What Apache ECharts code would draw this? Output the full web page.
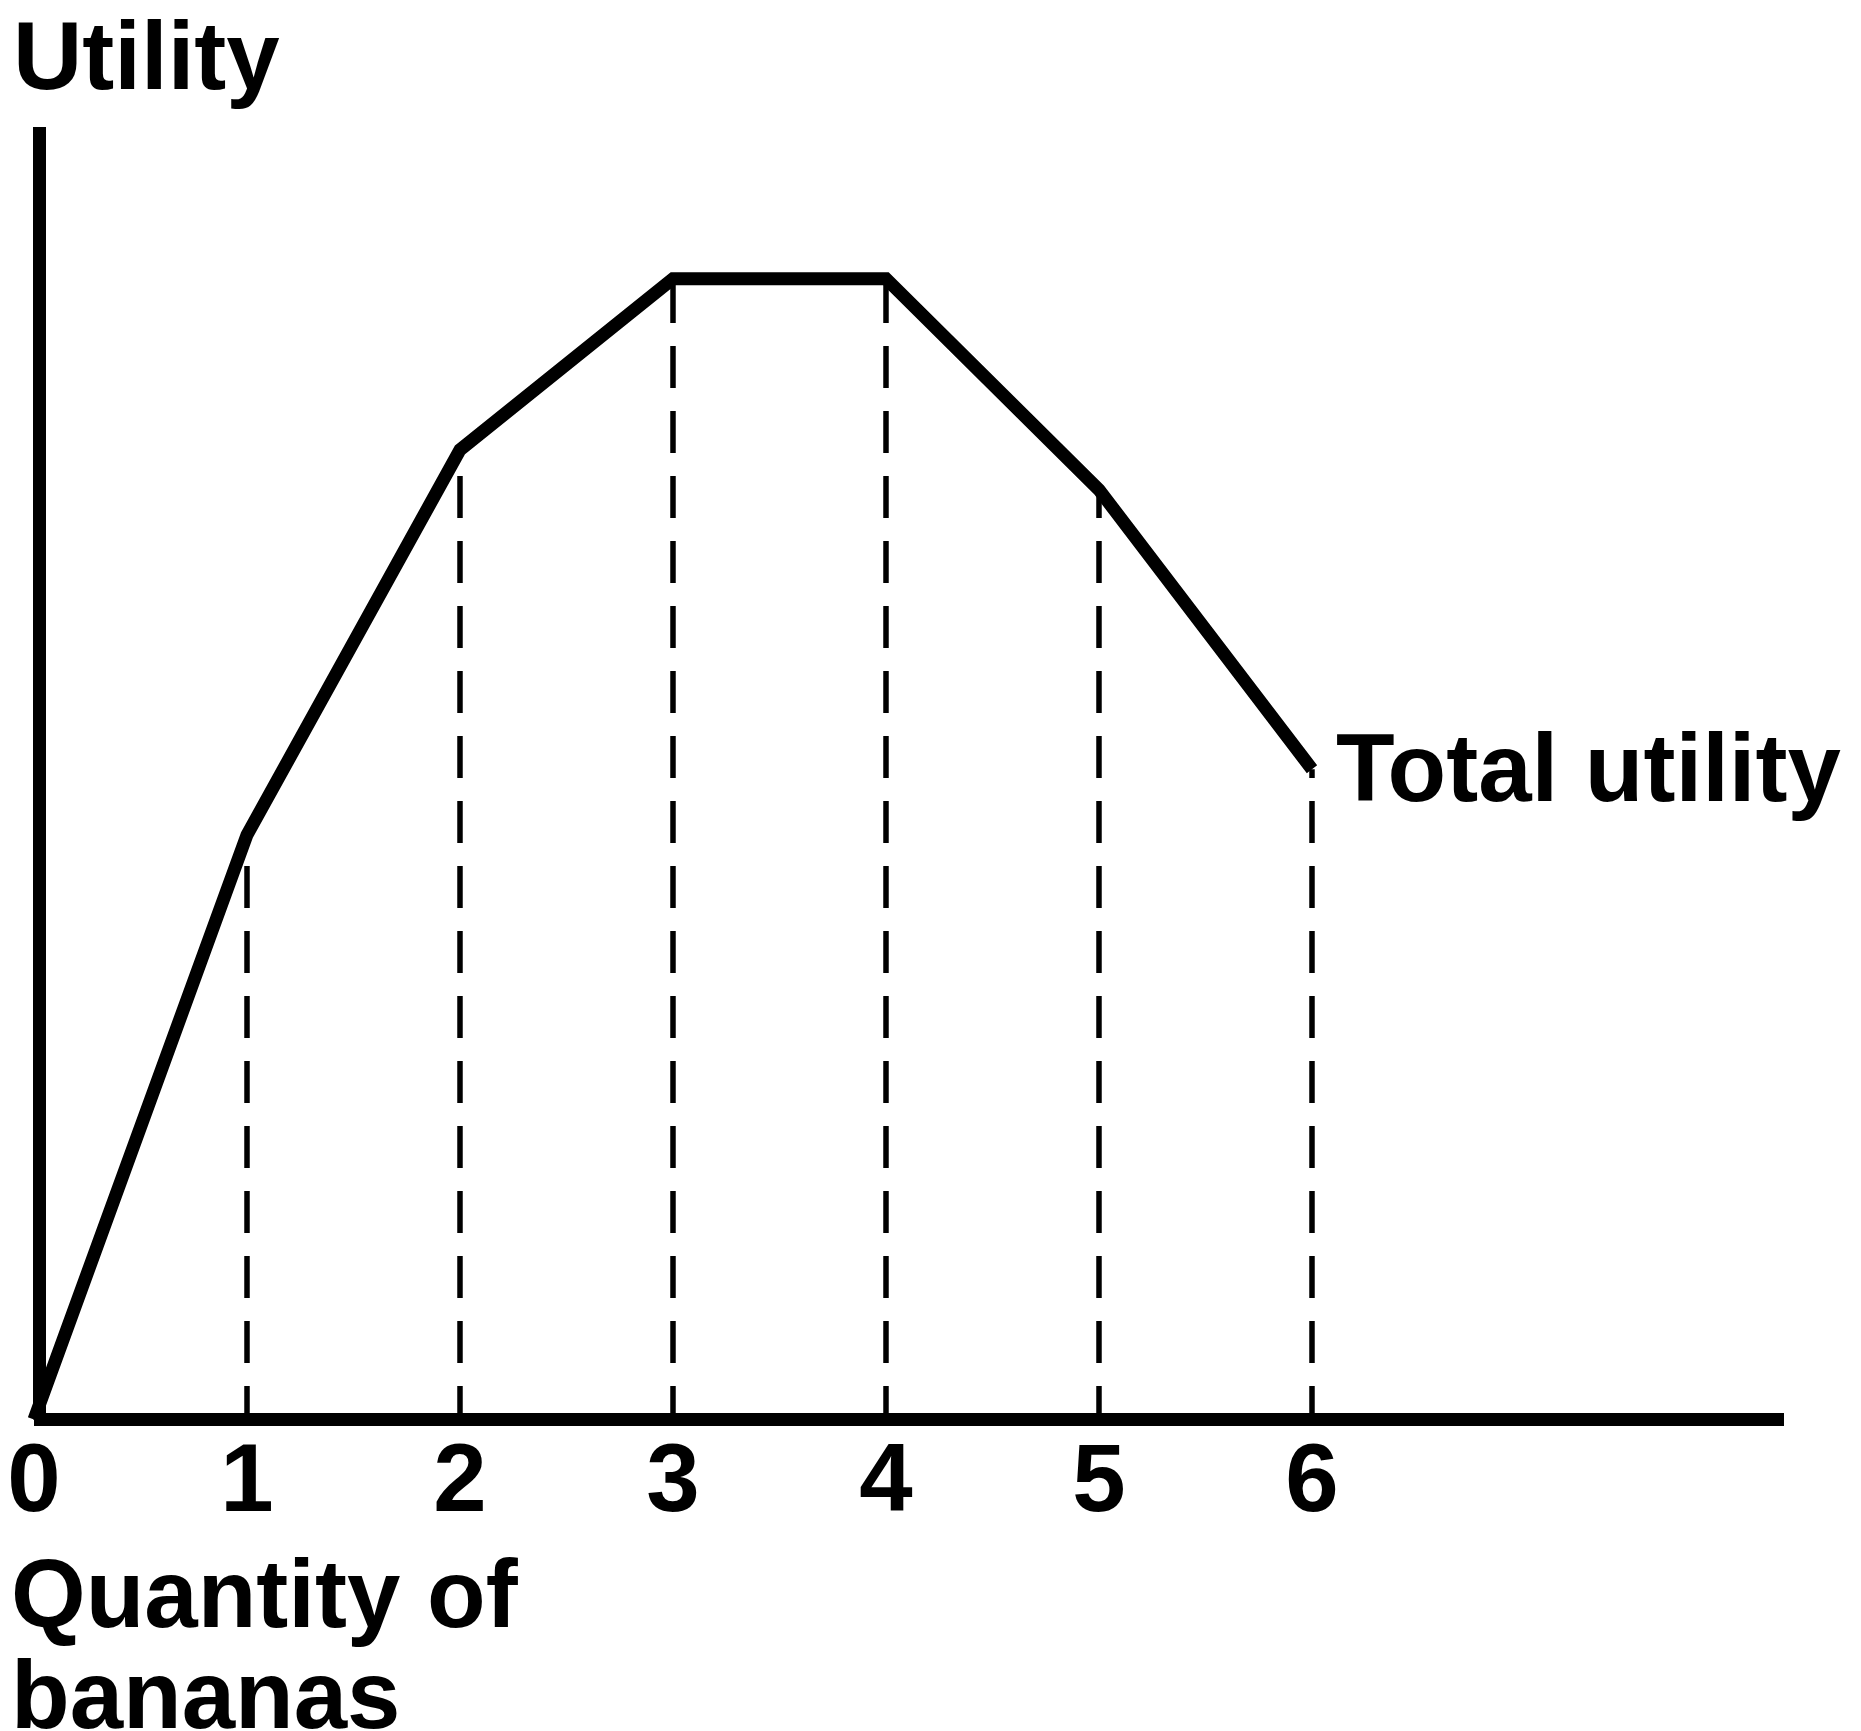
<!DOCTYPE html>
<html>
<head>
<meta charset="utf-8">
<script src="https://cdn.jsdelivr.net/npm/echarts@6/dist/echarts.min.js"></script>
<style>
html,body{margin:0;padding:0;background:#fff;}
#c{width:1861px;height:1731px;}
</style>
</head>
<body>
<div id="c"></div>
<script>
// Data
const quantities = [0, 1, 2, 3, 4, 5, 6];
const totalUtility = [0, 10.25, 17, 20, 20, 16.3, 11.4];
const xTickLabels = ['0', '1', '2', '3', '4', '5', '6'];
const yAxisTitle = 'Utility';
const xAxisTitle = 'Quantity of\nbananas';
const curveLabel = 'Total utility';

const FONT = '"Liberation Sans", Arial, Helvetica, sans-serif';
const chart = echarts.init(document.getElementById('c'), null, {renderer: 'canvas'});

const curveData = quantities.map((q, i) => [q, totalUtility[i]]);
const dashSeries = quantities.slice(1).map((q, i) => ({
  type: 'line',
  data: [[q, -0.15], [q, totalUtility[i + 1]]],
  symbol: 'none',
  silent: true,
  z: 3,
  lineStyle: {color: '#000', width: 5.5, type: [42, 23], cap: 'butt'}
}));

chart.setOption({
  animation: false,
  backgroundColor: '#fff',
  grid: {left: 34, top: 127, right: 77, bottom: 311.5, containLabel: false},
  xAxis: {
    type: 'value', min: 0, max: 8.216, interval: 1,
    axisLine: {show: true, lineStyle: {color: '#000', width: 13, cap: 'butt'}},
    axisTick: {show: false},
    splitLine: {show: false},
    axisLabel: {
      show: true, margin: 65.5, verticalAlign: 'middle',
      color: '#000', fontSize: 96, fontWeight: 'bold', fontFamily: FONT,
      formatter: v => (v >= 0 && v <= 6 && Number.isInteger(v)) ? xTickLabels[v] : ''
    }
  },
  yAxis: {
    type: 'value', min: 0, max: 22.66, offset: -5.5,
    axisLine: {show: true, lineStyle: {color: '#000', width: 13, cap: 'butt'}},
    axisTick: {show: false},
    splitLine: {show: false},
    axisLabel: {show: false}
  },
  series: [
    ...dashSeries,
    {
      type: 'line',
      data: curveData,
      symbol: 'none',
      z: 4,
      lineStyle: {color: '#000', width: 13, cap: 'butt', join: 'miter'}
    }
  ],
  graphic: [
    {type: 'text', z: 10, x: 13, y: 62.5, style: {
      text: yAxisTitle, fill: '#000', font: 'bold 96px ' + FONT, verticalAlign: 'middle', align: 'left'
    }},
    {type: 'text', z: 10, x: 1336, y: 775, style: {
      text: curveLabel, fill: '#000', font: 'bold 96px ' + FONT, verticalAlign: 'middle', align: 'left'
    }},
    {type: 'text', z: 10, x: 11, y: 1651, style: {
      text: xAxisTitle, fill: '#000', font: 'bold 96px ' + FONT, verticalAlign: 'middle', align: 'left', lineHeight: 101
    }}
  ]
});
</script>
</body>
</html>
